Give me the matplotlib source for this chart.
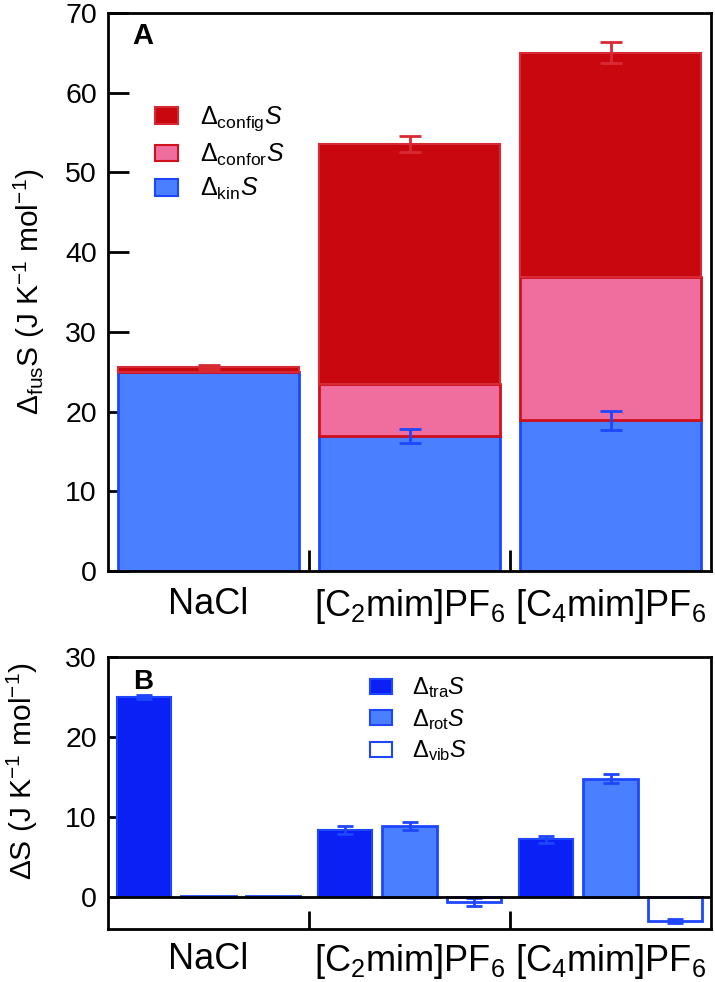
import matplotlib
matplotlib.use("Agg")
import matplotlib.pyplot as plt
import numpy as np
from matplotlib.patches import Patch

plt.rcParams['font.family'] = ['Liberation Sans', 'DejaVu Sans']
plt.rcParams['mathtext.fontset'] = 'custom'
plt.rcParams['mathtext.rm'] = 'Liberation Sans'
plt.rcParams['mathtext.it'] = 'Liberation Sans:italic'
plt.rcParams['mathtext.bf'] = 'Liberation Sans:bold'

# ---------------- data ----------------
categories = ['NaCl', r'[C$_2$mim]PF$_6$', r'[C$_4$mim]PF$_6$']

# panel A (stacked)
kin = [25.0, 16.9, 18.9]
kin_err = [0.0, 0.9, 1.2]
confor = [0.0, 6.6, 18.0]
config = [0.6, 30.1, 28.1]
total_err = [0.3, 1.0, 1.3]

# panel B (grouped)
tra = [25.0, 8.4, 7.2]
tra_err = [0.3, 0.5, 0.45]
rot = [0.1, 8.9, 14.8]
rot_err = [0.0, 0.5, 0.6]
vib = [0.1, -0.6, -3.0]
vib_err = [0.0, 0.5, 0.2]

# ---------------- colours ----------------
c_config = '#C8070F'
c_config_edge = '#D82A34'
c_confor = '#F06E9E'
c_confor_edge = '#D0101C'
c_kin = '#4A80FF'
c_kin_edge = '#1E46FF'
c_tra = '#0A20F5'
c_rot = '#4A80FF'
c_blue_edge = '#1E46FF'

fig = plt.figure(figsize=(7.15, 9.82), dpi=100)

W = 715.0
H = 982.0
def pos(l, t, r, b):
    return [l / W, 1 - b / H, (r - l) / W, (b - t) / H]

TICK_FS = 20.5
CAT_FS = 26
YLAB_FS = 21.5

# ---------------- panel A ----------------
axA = fig.add_axes(pos(108, 13, 711, 571))
x = np.arange(len(categories))
bw = 0.9
kin_a = np.array(kin)
confor_a = np.array(confor)
config_a = np.array(config)
axA.bar(x, kin_a, bw, color=c_kin, edgecolor=c_kin_edge, linewidth=2, zorder=2)
axA.bar(x, confor_a, bw, bottom=kin_a, color=c_confor, edgecolor=c_confor_edge, linewidth=2, zorder=2)
axA.bar(x, config_a, bw, bottom=kin_a + confor_a, color=c_config, edgecolor=c_config_edge, linewidth=1.5, zorder=2)
tot = kin_a + confor_a + config_a
axA.errorbar(x, tot, yerr=total_err, fmt='none', ecolor='#D82A34', elinewidth=2, capsize=8, capthick=2, zorder=3)
axA.errorbar(x[1:], kin_a[1:], yerr=kin_err[1:], fmt='none', ecolor=c_kin_edge, elinewidth=2, capsize=8, capthick=2, zorder=3)

axA.set_xlim(-0.5, 2.5)
axA.set_ylim(0, 70)
axA.set_yticks(np.arange(0, 71, 10))
axA.tick_params(axis='y', direction='in', length=15, width=2, labelsize=TICK_FS, pad=8)
axA.set_xticks([0.5, 1.5])
axA.set_xticklabels([])
axA.tick_params(axis='x', direction='in', length=15, width=2)
for xi, lab in zip(x, categories):
    axA.text(xi, -2.0, lab, ha='center', va='top', fontsize=CAT_FS)
for s in axA.spines.values():
    s.set_linewidth(2)
axA.set_ylabel(r'$\Delta_{\rm fus}$S (J K$^{-1}$ mol$^{-1}$)', fontsize=YLAB_FS)
axA.yaxis.set_label_coords(-0.101, 0.5)
axA.text(0.040, 0.984, 'A', transform=axA.transAxes, fontsize=21, fontweight='bold', va='top')

hA = [Patch(facecolor=c_config, edgecolor=c_config_edge, linewidth=1.5),
      Patch(facecolor=c_confor, edgecolor=c_confor_edge, linewidth=1.5),
      Patch(facecolor=c_kin, edgecolor=c_kin_edge, linewidth=1.5)]
lA = [r'$\Delta_{\rm config}\mathit{S}$', r'$\Delta_{\rm confor}\mathit{S}$', r'$\Delta_{\rm kin}\mathit{S}$']
axA.legend(hA, lA, loc='upper left', bbox_to_anchor=(0.040, 0.876), frameon=False,
           fontsize=18, handlelength=0.92, handleheight=0.64, labelspacing=0.33, handletextpad=0.9)

# ---------------- panel B ----------------
axB = fig.add_axes(pos(108, 657, 711, 929))
step = 0.32
bwB = 0.27
axB.bar(x - step, tra, bwB, color=c_tra, edgecolor=c_blue_edge, linewidth=1.5, zorder=2)
axB.bar(x, rot, bwB, color=c_rot, edgecolor=c_blue_edge, linewidth=2, zorder=2)
axB.bar(x + step, vib, bwB, color='white', edgecolor=c_blue_edge, linewidth=2, zorder=2)
axB.errorbar(x - step, tra, yerr=tra_err, fmt='none', ecolor=c_blue_edge, elinewidth=2, capsize=6, capthick=2, zorder=3)
axB.errorbar(x[1:], rot[1:], yerr=rot_err[1:], fmt='none', ecolor=c_blue_edge, elinewidth=2, capsize=6, capthick=2, zorder=3)
axB.errorbar(x[1:] + step, vib[1:], yerr=vib_err[1:], fmt='none', ecolor=c_blue_edge, elinewidth=2, capsize=6, capthick=2, zorder=3)
axB.axhline(0, color='black', linewidth=2, zorder=4)

axB.set_xlim(-0.5, 2.5)
axB.set_ylim(-4.0, 30)
axB.set_yticks([0, 10, 20, 30])
axB.tick_params(axis='y', direction='in', length=7, width=2, labelsize=TICK_FS, pad=8)
axB.set_xticks([0.5, 1.5])
axB.set_xticklabels([])
axB.tick_params(axis='x', direction='in', length=13, width=2)
for xi, lab in zip(x, categories):
    axB.text(xi, -5.6, lab, ha='center', va='top', fontsize=CAT_FS)
for s in axB.spines.values():
    s.set_linewidth(2)
axB.set_ylabel(r'$\Delta$S (J K$^{-1}$ mol$^{-1}$)', fontsize=YLAB_FS)
axB.yaxis.set_label_coords(-0.113, 0.58)
axB.text(0.041, 0.955, 'B', transform=axB.transAxes, fontsize=20, fontweight='bold', va='top')

hB = [Patch(facecolor=c_tra, edgecolor=c_blue_edge, linewidth=1.5),
      Patch(facecolor=c_rot, edgecolor=c_blue_edge, linewidth=1.5),
      Patch(facecolor='white', edgecolor=c_blue_edge, linewidth=1.5)]
lB = [r'$\Delta_{\rm tra}\mathit{S}$', r'$\Delta_{\rm rot}\mathit{S}$', r'$\Delta_{\rm vib}\mathit{S}$']
axB.legend(hB, lB, loc='upper left', bbox_to_anchor=(0.400, 1.01), frameon=False,
           fontsize=17, handlelength=0.93, handleheight=0.6, labelspacing=0.28, handletextpad=0.85)

fig.savefig('out.png', dpi=100)
